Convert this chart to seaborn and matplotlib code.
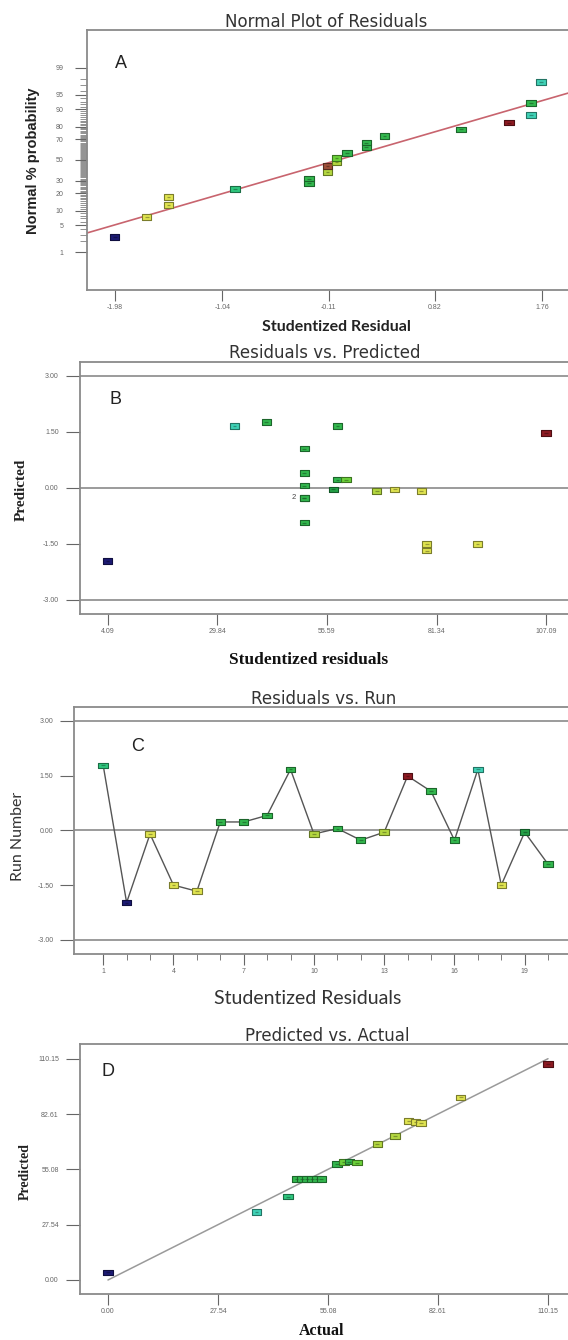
import statistics
import pandas as pd
import seaborn as sns
from matplotlib import pyplot as plt
from matplotlib import colors as mcolors

# ---------------- data ----------------------------------------------
# A : normal plot of residuals
a_resid = [-1.98, -1.70, -1.51, -1.51, -0.93, -0.28, -0.28, -0.12, -0.12, -0.04,
           -0.04, 0.05, 0.22, 0.22, 0.38, 1.05, 1.47, 1.66, 1.66, 1.75]
a_prob = [2.6, 7.6, 12.7, 17.7, 23, 28, 32, 38, 44, 48,
          52, 57, 63, 67, 72.5, 78, 82.7, 87.3, 92.4, 97.5]
a_colors = ['navy', 'yellow', 'yellow', 'yellow', 'tgreen', 'green', 'green', 'ygreen', 'brown', 'ygreen',
            'lgreen', 'green', 'green', 'green', 'green', 'green', 'red', 'teal', 'green', 'teal']
a_line_x = [-2.22, 2.02]
a_line_p = [3.3, 95.7]
a_xticks = [-1.98, -1.04, -0.11, 0.82, 1.76]
a_yticks = [1, 5, 10, 20, 30, 50, 70, 80, 90, 95, 99]

# B : residuals vs predicted
b_pred = [4.09, 33.86, 41.34, 50.27, 50.27, 50.27, 50.27, 50.27, 50.27, 58.10,
          57.08, 58.10, 60.05, 67.28, 71.53, 77.74, 79.02, 79.02, 90.93, 107.09]
b_resid = [-1.96, 1.66, 1.77, 1.05, 0.40, 0.06, -0.27, -0.27, -0.93, 1.66,
           -0.04, 0.22, 0.22, -0.09, -0.04, -0.09, -1.50, -1.68, -1.50, 1.47]
b_colors = ['navy', 'teal', 'green', 'green', 'green', 'green', 'green', 'green', 'green', 'green',
            'dgreen', 'green', 'lgreen', 'ygreen', 'yellow', 'yellow', 'yellow', 'yellow', 'yellow', 'red']
b_xticks = [4.09, 29.84, 55.59, 81.34, 107.09]

# C : residuals vs run
c_run = [1, 2, 3, 4, 5, 6, 7, 8, 9, 10, 11, 12, 13, 14, 15, 16, 17, 18, 19, 20]
c_resid = [1.78, -1.98, -0.10, -1.50, -1.67, 0.23, 0.23, 0.41, 1.67, -0.10,
           0.05, -0.27, -0.05, 1.49, 1.07, -0.27, 1.67, -1.50, -0.05, -0.93]
c_colors = ['tgreen', 'navy', 'yellow', 'yellow', 'yellow', 'green', 'green', 'green', 'green', 'ygreen',
            'green', 'green', 'ygreen', 'red', 'green', 'green', 'teal', 'yellow', 'dgreen', 'green']
c_xticks = [1, 4, 7, 10, 13, 16, 19]

res_yticks = [-3.0, -1.5, 0.0, 1.5, 3.0]

# D : predicted vs actual
d_actual = [0.0, 37.2, 45.1, 47.2, 48.6, 49.8, 51.0, 52.2, 53.4, 57.3,
            59.1, 60.4, 62.3, 67.4, 71.8, 75.3, 77.0, 78.4, 88.3, 110.15]
d_pred = [3.8, 34.0, 41.5, 50.3, 50.3, 50.3, 50.3, 50.3, 50.3, 57.6,
          58.6, 58.9, 58.4, 67.7, 71.8, 79.2, 78.6, 78.2, 90.9, 107.4]
d_colors = ['navy', 'teal', 'tgreen', 'green', 'green', 'green', 'green', 'green', 'green', 'green',
            'lgreen', 'green', 'lgreen', 'ygreen', 'ygreen', 'yellow', 'yellow', 'yellow', 'yellow', 'red']
d_ticks = [0.00, 27.54, 55.08, 82.61, 110.15]

# ---------------- colours ---------------------------------------
pt_colors = {
    'navy': '#1c1a72',
    'teal': '#3fd2b6',
    'tgreen': '#2fc77e',
    'green': '#33b84e',
    'dgreen': '#23a046',
    'lgreen': '#6cd23a',
    'ygreen': '#b4d840',
    'yellow': '#e0e450',
    'brown': '#a0503a',
    'red': '#8c1a22',
}
edge_colors = {k: tuple(c * 0.55 for c in mcolors.to_rgb(v)) for k, v in pt_colors.items()}

sns.set_style("white")
plt.rcParams['font.family'] = ['Liberation Sans', 'DejaVu Sans']

W, H = 568, 1340
fig = plt.figure(figsize=(W / 100, H / 100), dpi=100)

rect = [(-1, -0.6), (1, -0.6), (1, 0.6), (-1, 0.6), (-1, -0.6)]
tick_col = '#666666'
frame_col = '#8a8a8a'


def make_ax(left, top, right, bottom):
    ax = fig.add_axes([left / W, 1 - bottom / H, (right - left) / W, (bottom - top) / H])
    for sp in ax.spines.values():
        sp.set_color(frame_col)
        sp.set_linewidth(1.3)
    ax.tick_params(axis='both', which='both', bottom=True, left=True, top=False, right=False)
    ax.tick_params(axis='both', which='major', direction='out', length=8, width=0.8,
                   color=tick_col, labelsize=5, labelcolor=tick_col, pad=2)
    ax.tick_params(axis='y', which='major', length=10, pad=5)
    ax.tick_params(axis='both', which='minor', direction='out', length=4, width=0.6, color=tick_col)
    ax.set_xlabel('')
    ax.set_ylabel('')
    return ax


def draw_points(ax, x, y, cols):
    df = pd.DataFrame({'x': x, 'y': y, 'col': cols})
    sns.scatterplot(data=df, x='x', y='y', hue='col', palette=pt_colors, marker=rect, s=46,
                    edgecolor=[edge_colors[c] for c in cols], linewidth=0.8, legend=False, ax=ax, zorder=4)
    ax.scatter(x, y, marker='_', s=7, c=[edge_colors[c] for c in cols], linewidths=0.9, zorder=5, alpha=0.7)
    ax.set_xlabel('')
    ax.set_ylabel('')


def ftext(x, y, s, **kw):
    fig.text(x / W, 1 - y / H, s, ha='center', va='center', **kw)


title_kw = dict(fontsize=12, color='#333333', family=['DejaVu Sans'])
serif = ['Liberation Serif', 'DejaVu Serif']
calib = ['Lato', 'DejaVu Sans']

# ---------------- A ---------------------------------------------
nd = statistics.NormalDist()
ax = make_ax(87, 30, 572, 290)
a_z = [nd.inv_cdf(p / 100) for p in a_prob]
sns.lineplot(x=a_line_x, y=[nd.inv_cdf(p / 100) for p in a_line_p], color='#c8646e', linewidth=1.2, ax=ax, zorder=2)
draw_points(ax, a_resid, a_z, a_colors)
ax.set_xlim(-2.223, 2.02)
ax.set_ylim(-3.28, 3.28)
ax.set_xticks(a_xticks)
ax.set_xticklabels([f'{v:.2f}' for v in a_xticks])
ax.set_yticks([nd.inv_cdf(p / 100) for p in a_yticks])
ax.set_yticklabels([str(p) for p in a_yticks])
ax.set_yticks([nd.inv_cdf(p / 100) for p in range(1, 100)], minor=True)
ax.tick_params(axis='y', which='major', length=9, pad=8)
ax.tick_params(axis='y', which='minor', length=5, width=0.5)
ax.text(0.07, 0.87, 'A', transform=ax.transAxes, fontsize=13, color='#222222', ha='center', va='center')

ftext(326, 22, 'Normal Plot of Residuals', **title_kw)
ftext(336, 327, 'Studentized Residual', fontsize=11.5, fontweight='bold', color='#222222', family=calib)
ftext(33, 161, 'Normal % probability', fontsize=10.5, fontweight='bold', color='#222222', rotation=90)

# ---------------- B ---------------------------------------------
ax = make_ax(79.7, 361.7, 572, 614)
for yv in [3.0, 0.0, -3.0]:
    ax.axhline(yv, color='#8a8a8a', linewidth=1.2, zorder=1)
draw_points(ax, b_pred, b_resid, b_colors)
ax.text(47.9, -0.27, '2', fontsize=5.5, color='#444444', ha='center', va='center')
ax.set_xlim(-2.46, 113.15)
ax.set_ylim(-3.38, 3.38)
ax.set_xticks(b_xticks)
ax.set_xticklabels([f'{v:.2f}' for v in b_xticks])
ax.set_yticks(res_yticks)
ax.set_yticklabels([f'{v:.2f}' for v in res_yticks])
ax.text(0.072, 0.85, 'B', transform=ax.transAxes, fontsize=13, color='#222222', ha='center', va='center')

ftext(325, 353, 'Residuals vs. Predicted', **title_kw)
ftext(309, 660, 'Studentized residuals', fontsize=12.5, fontweight='bold', color='#111111', family=serif)
ftext(21, 490, 'Predicted', fontsize=11, fontweight='bold', color='#222222', rotation=90, family=serif)

# ---------------- C ---------------------------------------------
ax = make_ax(74.3, 706.7, 572, 954)
for yv in [3.0, 0.0, -3.0]:
    ax.axhline(yv, color='#8a8a8a', linewidth=1.2, zorder=1)
sns.lineplot(x=c_run, y=c_resid, color='#555555', linewidth=1.0, estimator=None, ax=ax, zorder=2)
draw_points(ax, c_run, c_resid, c_colors)
ax.set_xlim(-0.234, 21.02)
ax.set_ylim(-3.39, 3.39)
ax.set_xticks(c_xticks)
ax.set_xticklabels([str(v) for v in c_xticks])
ax.set_xticks(c_run, minor=True)
ax.set_yticks(res_yticks)
ax.set_yticklabels([f'{v:.2f}' for v in res_yticks])
ax.text(0.127, 0.84, 'C', transform=ax.transAxes, fontsize=13, color='#222222', ha='center', va='center')

ftext(324, 699, 'Residuals vs. Run', **title_kw)
ftext(308, 998, 'Studentized Residuals', fontsize=14, color='#333333', family=calib)
ftext(18, 836, 'Run Number', fontsize=11.5, color='#333333', rotation=90, family=calib)

# ---------------- D ---------------------------------------------
ax = make_ax(79.7, 1044, 572, 1294)
sns.lineplot(x=[d_ticks[0], d_ticks[-1]], y=[d_ticks[0], d_ticks[-1]], color='#9a9a9a', linewidth=1.1, ax=ax, zorder=2)
draw_points(ax, d_actual, d_pred, d_colors)
ax.set_xlim(-7.08, 116.16)
ax.set_ylim(-6.97, 117.47)
ax.set_xticks(d_ticks)
ax.set_xticklabels([f'{v:.2f}' for v in d_ticks])
ax.set_yticks(d_ticks)
ax.set_yticklabels([f'{v:.2f}' for v in d_ticks])
ax.text(0.058, 0.89, 'D', transform=ax.transAxes, fontsize=13, color='#222222', ha='center', va='center')

ftext(327, 1036, 'Predicted vs. Actual', **title_kw)
ftext(322, 1331, 'Actual', fontsize=11.5, fontweight='bold', color='#111111', family=serif)
ftext(25, 1171, 'Predicted', fontsize=10, fontweight='bold', color='#222222', rotation=90, family=serif)

fig.savefig('out.png', dpi=100)
